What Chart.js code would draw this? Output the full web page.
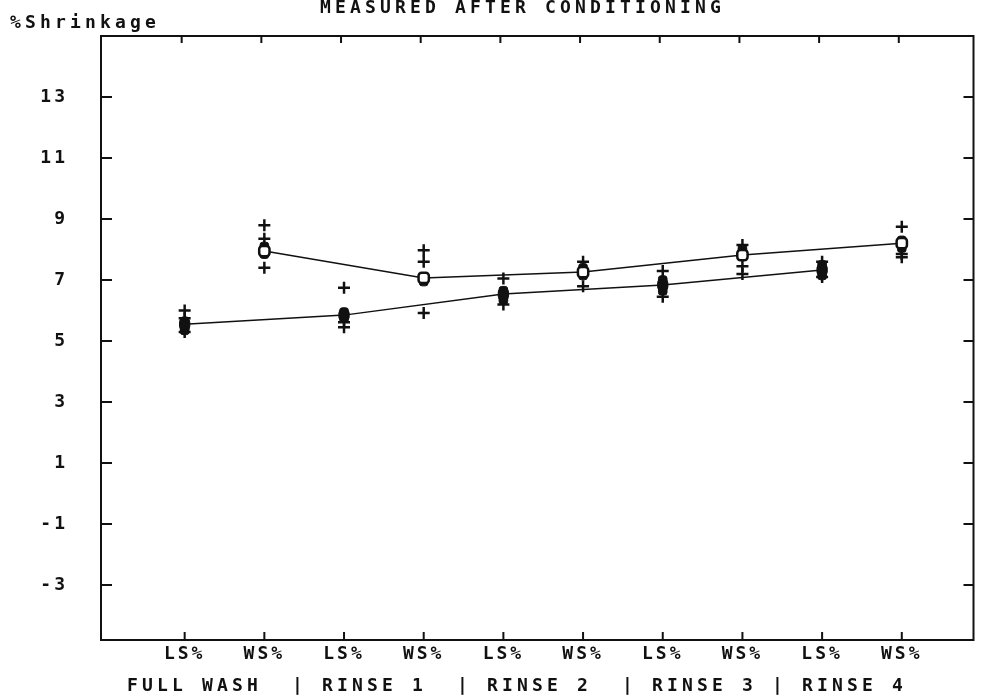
<!DOCTYPE html>
<html>
<head>
<meta charset="utf-8">
<script src="https://cdn.jsdelivr.net/npm/chart.js@4/dist/chart.umd.min.js"></script>
<style>
html,body{margin:0;padding:0;background:#fff;}
#wrap{width:982px;height:698px;position:relative;}
</style>
</head>
<body>
<div id="wrap"><canvas id="c" width="982" height="698"></canvas></div>
<script>
// ---- data ----
const xLabels = ['LS%','WS%','LS%','WS%','LS%','WS%','LS%','WS%','LS%','WS%'];
const groupLabel = 'FULL WASH  | RINSE 1  | RINSE 2  | RINSE 3 | RINSE 4';
const titleText = 'MEASURED AFTER CONDITIONING';
const yTitle = '%Shrinkage';
const yTicks = [-3, -1, 1, 3, 5, 7, 9, 11, 13];
const lsIndex = [0, 2, 4, 6, 8];
const wsIndex = [1, 3, 5, 7, 9];
const lsMeans = [5.55, 5.85, 6.54, 6.84, 7.33];
const wsMeans = [7.95, 7.07, 7.26, 7.82, 8.21];
const plusValues = [
  [6.0, 5.75, 5.3],
  [8.8, 8.35, 7.4],
  [6.75, 5.62, 5.45],
  [7.98, 7.6, 5.92],
  [7.05, 6.2],
  [7.6, 6.8],
  [7.3, 6.45],
  [8.15, 7.45, 7.2],
  [7.6, 7.1],
  [8.75, 7.85, 7.75]
];
const obsValues = [
  [5.65, 5.45, 5.35],
  [8.1, 7.85],
  [5.95, 5.75],
  [6.95],
  [6.65, 6.45, 6.35],
  [7.4, 7.15],
  [7.0, 6.8, 6.65],
  [8.0],
  [7.5, 7.3, 7.15],
  [8.3, 8.05]
];

// ---- build points ----
const lsPts = lsIndex.map((x, i) => ({x: x, y: lsMeans[i]}));
const wsPts = wsIndex.map((x, i) => ({x: x, y: wsMeans[i]}));
const plusPts = [];
plusValues.forEach((arr, i) => arr.forEach(v => plusPts.push({x: i, y: v})));
const obsPts = [];
obsValues.forEach((arr, i) => arr.forEach(v => obsPts.push({x: i, y: v})));

const INK = '#111';
const FONT = 'DejaVu Sans Mono';
Chart.defaults.font.family = FONT;
Chart.defaults.font.size = 18;
Chart.defaults.font.weight = 'bold';
Chart.defaults.color = INK;

function drawSpaced(ctx, text, x0, y, pitch) {
  for (let i = 0; i < text.length; i++) {
    ctx.fillText(text[i], x0 + (i + 0.5) * pitch, y);
  }
}

const framePlugin = {
  id: 'frame',
  beforeDraw(chart) {
    const ctx = chart.ctx;
    ctx.save();
    ctx.fillStyle = '#fff';
    ctx.fillRect(0, 0, chart.width, chart.height);
    ctx.restore();
    ctx.letterSpacing = '3px';
  },
  afterDraw(chart) {
    const ctx = chart.ctx;
    const a = chart.chartArea;
    const xs = chart.scales.x, ys = chart.scales.y;
    ctx.save();
    ctx.letterSpacing = '0px';
    ctx.strokeStyle = INK;
    ctx.lineWidth = 2;
    ctx.strokeRect(a.left, a.top, a.right - a.left, a.bottom - a.top);
    ctx.beginPath();
    xs.ticks.forEach(t => {
      const px = xs.getPixelForValue(t.value);
      ctx.moveTo(px, a.bottom); ctx.lineTo(px, a.bottom - 8);
      ctx.moveTo(px - 3, a.top); ctx.lineTo(px - 3, a.top + 7);
    });
    ys.ticks.forEach(t => {
      const py = ys.getPixelForValue(t.value);
      ctx.moveTo(a.left, py); ctx.lineTo(a.left + 11, py);
      ctx.moveTo(a.right, py); ctx.lineTo(a.right - 10, py);
    });
    ctx.stroke();
    ctx.fillStyle = INK;
    ctx.font = 'bold 18px ' + FONT;
    ctx.textAlign = 'center';
    ctx.textBaseline = 'alphabetic';
    drawSpaced(ctx, titleText, 318, 13, 15);
    drawSpaced(ctx, yTitle, 8, 28, 15);
    drawSpaced(ctx, groupLabel, 125, 691, 15);
    ctx.restore();
  }
};

new Chart(document.getElementById('c'), {
  type: 'scatter',
  data: {
    datasets: [
      {
        label: 'WS mean', data: wsPts, showLine: true, order: 1,
        borderColor: INK, borderWidth: 1.5,
        pointStyle: 'rectRounded', pointRadius: 6,
        pointBackgroundColor: '#fff', pointBorderColor: INK, pointBorderWidth: 2.5
      },
      {
        label: 'LS mean', data: lsPts, showLine: true, order: 2,
        borderColor: INK, borderWidth: 1.5,
        pointStyle: 'rectRounded', pointRadius: 6,
        pointBackgroundColor: INK, pointBorderColor: INK, pointBorderWidth: 1
      },
      {
        label: 'obs', data: obsPts, showLine: false, order: 3,
        pointStyle: 'rectRounded', pointRadius: 5,
        pointBackgroundColor: INK, pointBorderColor: INK, pointBorderWidth: 1
      },
      {
        label: 'plus', data: plusPts, showLine: false, order: 4,
        pointStyle: 'cross', pointRadius: 6,
        pointBorderColor: INK, pointBorderWidth: 2.5
      }
    ]
  },
  options: {
    responsive: false,
    animation: false,
    layout: {padding: {top: 36, right: -3, left: 0, bottom: 0}},
    plugins: {legend: {display: false}, tooltip: {enabled: false}, title: {display: false}},
    scales: {
      x: {
        type: 'linear', min: -1.05, max: 9.9,
        grid: {display: false, drawTicks: false},
        border: {display: false},
        afterBuildTicks(s) { s.ticks = xLabels.map((l, i) => ({value: i})); },
        afterFit(s) { s.height = 58; s.paddingLeft = 0; s.paddingRight = 0; },
        ticks: {
          padding: 4, maxRotation: 0, autoSkip: false,
          font: {size: 18, family: FONT, weight: 'bold'},
          callback: (v) => xLabels[v]
        }
      },
      y: {
        min: -4.8, max: 15,
        grid: {display: false, drawTicks: false},
        border: {display: false},
        afterBuildTicks(s) { s.ticks = yTicks.map(v => ({value: v})); },
        afterFit(s) { s.width = 101; s.paddingTop = 0; s.paddingBottom = 0; },
        ticks: {padding: 33, font: {size: 18, family: FONT, weight: 'bold'}, callback: (v) => String(v)}
      }
    }
  },
  plugins: [framePlugin]
});
</script>
</body>
</html>
